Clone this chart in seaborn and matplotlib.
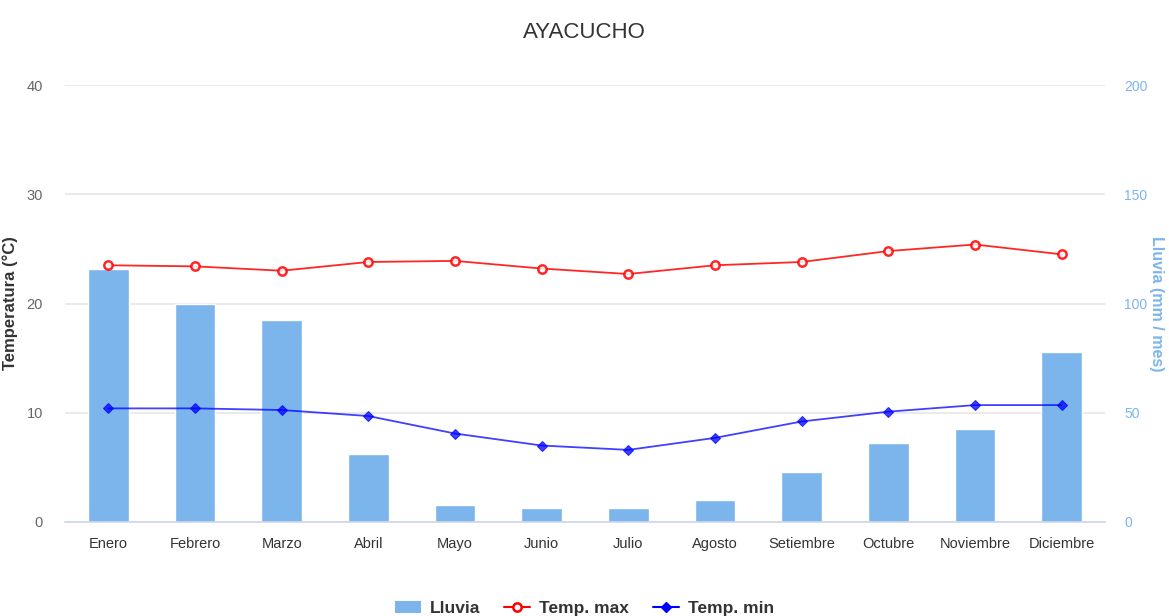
import matplotlib
matplotlib.use('Agg')
import matplotlib.pyplot as plt
from matplotlib.lines import Line2D
from matplotlib.patches import Patch
import seaborn as sns

meses = ['Enero', 'Febrero', 'Marzo', 'Abril', 'Mayo', 'Junio', 'Julio',
         'Agosto', 'Setiembre', 'Octubre', 'Noviembre', 'Diciembre']
lluvia = [116, 100, 92.5, 31, 8, 6.5, 6.5, 10, 23, 36, 42.5, 78]
temp_max = [23.5, 23.4, 23.0, 23.8, 23.9, 23.2, 22.7, 23.5, 23.8, 24.8, 25.4, 24.5]
temp_min = [10.4, 10.4, 10.25, 9.7, 8.1, 7.0, 6.6, 7.7, 9.2, 10.1, 10.7, 10.7]

sns.set_style('white')
plt.rcParams['font.family'] = ['Liberation Sans', 'DejaVu Sans']

fig = plt.figure(figsize=(11.69, 6.16), dpi=100)
ax_t = fig.add_axes([0.0556, 0.1526, 0.8896, 0.7094])
ax_r = ax_t.twinx()
ax_t.set_zorder(ax_r.get_zorder() + 1)
ax_t.patch.set_visible(False)

# lluvia (eje derecho)
sns.barplot(x=meses, y=lluvia, ax=ax_r, color='#7cb5ec', saturation=1, width=0.47)
ax_r.set_ylim(0, 200)
ax_r.set_yticks([0, 50, 100, 150, 200])
ax_r.yaxis.grid(True, color='#e6e6e6', linewidth=1.2)
ax_r.set_axisbelow(True)
ax_r.tick_params(axis='y', length=0, pad=14, labelsize=10, labelcolor='#7cb5ec')
ax_r.set_ylabel('Lluvia (mm / mes)', color='#7cb5ec', fontsize=11.5, rotation=270,
                labelpad=12, fontweight='bold')

# temperaturas (eje izquierdo)
sns.lineplot(x=meses, y=temp_max, ax=ax_t, color='#ff0000', linewidth=1.3,
             alpha=0.85, marker='o', markersize=6, markerfacecolor='white',
             markeredgecolor='#ff0000', markeredgewidth=1.8, sort=False)
sns.lineplot(x=meses, y=temp_min, ax=ax_t, color='#0000ff', linewidth=1.3,
             alpha=0.75, marker='D', markersize=5, markerfacecolor='#0000ff',
             markeredgecolor='#0000ff', sort=False)
ax_t.set_ylim(0, 40)
ax_t.set_yticks([0, 10, 20, 30, 40])
ax_t.set_xlim(-0.5, 11.5)
ax_t.tick_params(axis='y', length=0, pad=16, labelsize=10.5, labelcolor='#666666')
ax_t.set_ylabel('Temperatura (°C)', color='#333333', fontsize=12,
                fontweight='bold', labelpad=6)
ax_t.set_xlabel('')
ax_r.set_xlabel('')

ax_t.tick_params(axis='x', which='major', length=0, pad=11, labelsize=10.5,
                 labelcolor='#333333')
ax_t.set_xticks([i - 0.5 for i in range(13)], minor=True)
ax_t.tick_params(axis='x', which='minor', length=9, color='#ccd6eb', width=1)

for ax in (ax_t, ax_r):
    for s in ax.spines.values():
        s.set_visible(False)
ax_t.spines['bottom'].set_visible(True)
ax_t.spines['bottom'].set_color('#ccd6eb')
ax_t.spines['bottom'].set_linewidth(1.2)

fig.suptitle('AYACUCHO', x=0.5, y=0.965, fontsize=16, color='#333333')

handles = [
    Patch(facecolor='#7cb5ec', edgecolor='none', label='Lluvia'),
    Line2D([], [], color='#ff0000', marker='o', markerfacecolor='white',
           markeredgewidth=1.8, markersize=6, label='Temp. max'),
    Line2D([], [], color='#0000ff', marker='D', markersize=5, label='Temp. min'),
]
fig.legend(handles=handles, loc='lower center', ncol=3, frameon=False,
           bbox_to_anchor=(0.5, -0.025), prop={'size': 12.5, 'weight': 'bold'},
           handlelength=1.5, columnspacing=1.4, handletextpad=0.5,
           labelcolor='#333333')

fig.savefig('out.png', dpi=100)
